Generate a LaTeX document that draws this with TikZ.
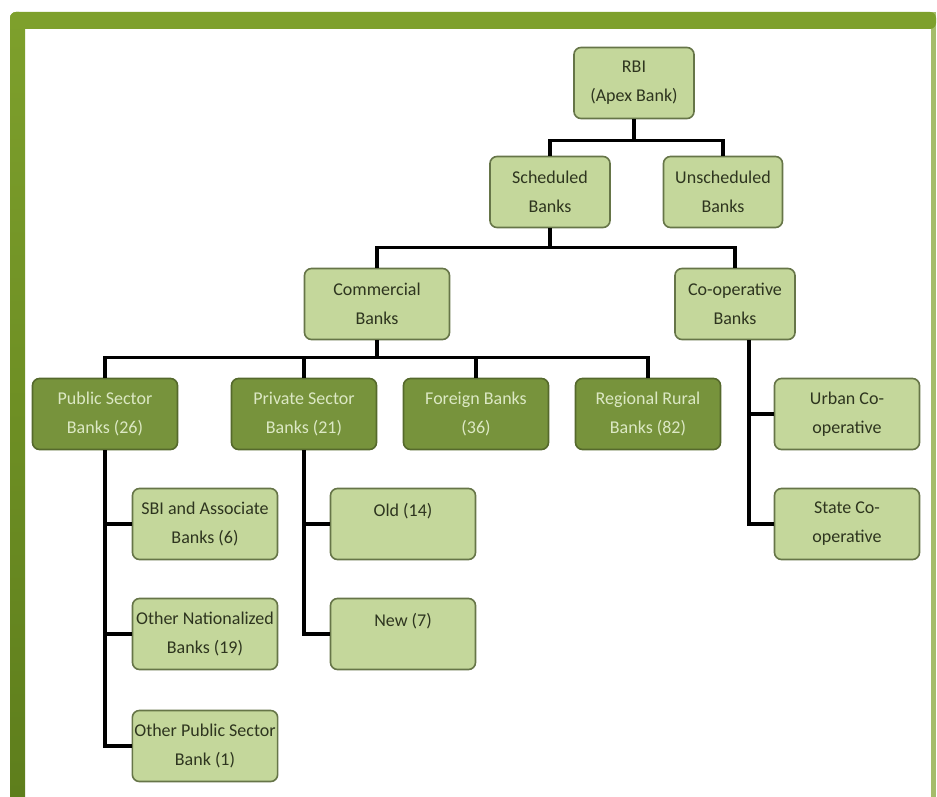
\documentclass[tikz,border=0pt]{standalone}
\usepackage{fontspec}
\setmainfont{Carlito}
\definecolor{framegreen}{HTML}{7EA02C}
\definecolor{framedark}{HTML}{5E7E1C}
\definecolor{lightfill}{HTML}{C4D79B}
\definecolor{lightdraw}{HTML}{667548}
\definecolor{lighttext}{HTML}{2E351F}
\definecolor{darkfill}{HTML}{77933C}
\definecolor{darkdraw}{HTML}{55692C}
\definecolor{darktext}{HTML}{DCE8C4}
\tikzset{
  lbox/.style={draw=lightdraw, fill=lightfill, text=lighttext, line width=1.6pt,
    rounded corners=7pt, align=center, minimum height=71pt, inner sep=2pt,
    font=\fontsize{18}{29}\selectfont},
  dbox/.style={draw=darkdraw, fill=darkfill, text=darktext, line width=1.6pt,
    rounded corners=7pt, align=center, minimum height=71pt, minimum width=145pt, inner sep=2pt,
    font=\fontsize{18}{29}\selectfont},
  conn/.style={line width=3.2pt, black},
}
\begin{document}
\begin{tikzpicture}[x=1pt,y=-1pt]
\useasboundingbox (0,0) rectangle (937,797);
\fill[white] (0,0) rectangle (937,797);
% frame
\fill[framegreen!70] (931,12) rectangle (936,797);
\shade[top color=framegreen, bottom color=framedark] (10,797) -- (10,20) [rounded corners=6pt] -- (10,12) -- (25,12) [sharp corners] -- (25,797) -- cycle;
\fill[framegreen, rounded corners=6pt] (10,29) -- (10,12) -- (936,12) -- (936,29) -- cycle;
\fill[framegreen] (10,20) rectangle (25,29);

% nodes
\node[lbox, minimum width=120pt] (rbi) at (634,83) {RBI\\(Apex Bank)};
\node[lbox, minimum width=120pt] (sched) at (550,192) {Scheduled\\Banks};
\node[lbox, minimum width=119pt] (unsched) at (723,192) {Unscheduled\\Banks};
\node[lbox, minimum width=145pt] (comm) at (377,304) {Commercial\\Banks};
\node[lbox, minimum width=120pt] (coop) at (735,304) {Co-operative\\Banks};
\node[dbox] (pub) at (105,414) {Public Sector\\Banks (26)};
\node[dbox] (priv) at (304,414) {Private Sector\\Banks (21)};
\node[dbox] (for) at (476,414) {Foreign Banks\\(36)};
\node[dbox] (rrb) at (648,414) {Regional Rural\\Banks (82)};
\node[lbox, minimum width=145pt] (urban) at (847,414) {Urban Co-\\operative};
\node[lbox, minimum width=145pt] (state) at (847,524) {State Co-\\operative};
\node[lbox, minimum width=145pt] (sbi) at (205,524) {SBI and Associate\\Banks (6)};
\node[lbox, minimum width=145pt] (onb) at (205,634) {Other Nationalized\\Banks (19)};
\node[lbox, minimum width=145pt] (opsb) at (205,746) {Other Public Sector\\Bank (1)};
\node[lbox, minimum width=145pt] (old) at (403,524) {Old (14)\\~};
\node[lbox, minimum width=145pt] (new) at (403,634) {New (7)\\~};

% connectors
\draw[conn] (rbi.south) -- ++(0,21) coordinate (j1);
\draw[conn] (j1) -| (sched.north);
\draw[conn] (j1) -| (unsched.north);
\draw[conn] (sched.south) -- ++(0,19) coordinate (j2);
\draw[conn] (j2) -| (comm.north);
\draw[conn] (j2) -| (coop.north);
\draw[conn] (comm.south) -- ++(0,17) coordinate (j3);
\draw[conn] (j3) -| (pub.north);
\draw[conn] (j3) -| (priv.north);
\draw[conn] (j3) -| (for.north);
\draw[conn] (j3) -| (rrb.north);
\draw[conn] ([xshift=14pt]coop.south) |- (urban.west);
\draw[conn] ([xshift=14pt]coop.south) |- (state.west);
\draw[conn] (pub.south) |- (sbi.west);
\draw[conn] (pub.south) |- (onb.west);
\draw[conn] (pub.south) |- (opsb.west);
\draw[conn] (priv.south) |- (old.west);
\draw[conn] (priv.south) |- (new.west);
\end{tikzpicture}
\end{document}
